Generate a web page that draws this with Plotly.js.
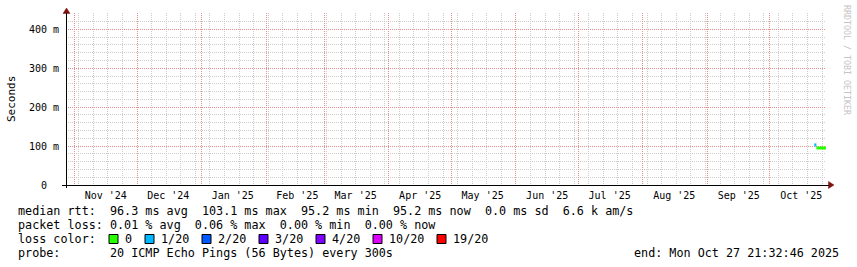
<!DOCTYPE html>
<html><head><meta charset="utf-8">
<script src="https://cdn.plot.ly/plotly-3.0.1.min.js"></script>
<style>html,body{margin:0;padding:0;background:#fff;} #chart{width:857px;height:267px;}</style>
</head><body><div id="chart"></div>
<script>
// ---- data ----
const rangeStart = '2024-10-27 21:32:46';
const rangeEnd = '2025-10-27 21:32:46';
const weekGridStart = '2024-11-03';
const monthStarts = ['2024-11-01','2024-12-01','2025-01-01','2025-02-01','2025-03-01','2025-04-01',
  '2025-05-01','2025-06-01','2025-07-01','2025-08-01','2025-09-01','2025-10-01'];
const monthLabelDates = ['2024-11-16','2024-12-16','2025-01-16','2025-02-16','2025-03-16','2025-04-16',
  '2025-05-16','2025-06-16','2025-07-16','2025-08-16','2025-09-16','2025-10-16'];
const monthLabels = ["Nov '24","Dec '24","Jan '25","Feb '25","Mar '25","Apr '25",
  "May '25","Jun '25","Jul '25","Aug '25","Sep '25","Oct '25"];
const yTickVals = [0, 0.1, 0.2, 0.3, 0.4];
const yTickText = ['0  ', '100 m', '200 m', '300 m', '400 m'];
// sample boundaries (last entry = end of graph)
const sampleTimes = ['2025-10-22 07:00','2025-10-23 07:00','2025-10-24 07:00','2025-10-25 07:00',
  '2025-10-26 07:00','2025-10-27 07:00','2025-10-27 21:32'];
const medianRtt = [0.1031, 0.0953, 0.0952, 0.0952, 0.0952, 0.0952];
const lossCount = [1, 0, 0, 0, 0, 0];
const lossLevels = [0, 1, 2, 3, 4, 10, 19];
const lossLabels = ['0', '1/20', '2/20', '3/20', '4/20', '10/20', '19/20'];
const lossColors = ['#26ff00', '#00b8ff', '#0059ff', '#5e00ff', '#7e00ff', '#dd00ff', '#ff0000'];
const statLines = [
  'median rtt:  96.3 ms avg  103.1 ms max  95.2 ms min  95.2 ms now  0.0 ms sd  6.6 k am/s',
  'packet loss: 0.01 % avg  0.06 % max  0.00 % min  0.00 % now'
];
const probeLine = 'probe:       20 ICMP Echo Pings (56 Bytes) every 300s';
const endLine = 'end: Mon Oct 27 21:32:46 2025';
const watermark = 'RRDTOOL / TOBI OETIKER';

// ---- geometry helpers ----
const L = 66, R = 826, T = 13, B = 185;
const px = x => (x - L) / (R - L);
const py = y => (B - y) / (B - T);
const nb = s => s.replace(/ /g, '\u00a0');
const MONO = 'DejaVu Sans Mono, monospace';
function colorFor(loss) {
  let c = lossColors[0];
  lossLevels.forEach((lv, i) => { if (loss >= lv) c = lossColors[i]; });
  return c;
}

// ---- traces: median line coloured by loss ----
const traces = [];
let run = null;
for (let i = 0; i < medianRtt.length; i++) {
  const col = colorFor(lossCount[i]);
  if (!run || run.line.color !== col) {
    if (run) { run.x.push(sampleTimes[i]); run.y.push(medianRtt[i - 1]); }
    run = {type: 'scatter', mode: 'lines', x: [], y: [], line: {color: col, width: 3, shape: 'hv'},
      showlegend: false, hoverinfo: 'skip', xaxis: 'x', yaxis: 'y'};
    traces.push(run);
  }
  run.x.push(sampleTimes[i]); run.y.push(medianRtt[i]);
}
run.x.push(sampleTimes[sampleTimes.length - 1]); run.y.push(medianRtt[medianRtt.length - 1]);
['x2', 'x3'].forEach(ax => traces.push({type: 'scatter', mode: 'lines', x: [null], y: [null], xaxis: ax, yaxis: 'y',
  showlegend: false, hoverinfo: 'skip'}));

// ---- annotations ----
const ann = [];
const textFont = {family: MONO, size: 11.75, color: '#000'};
const lineY = [211, 225, 239, 253];
statLines.forEach((s, i) => ann.push({xref: 'paper', yref: 'paper', x: px(16), y: py(lineY[i]),
  xanchor: 'left', yanchor: 'middle', text: nb(s), showarrow: false, font: textFont}));
ann.push({xref: 'paper', yref: 'paper', x: px(16), y: py(lineY[2]), xanchor: 'left', yanchor: 'middle',
  text: nb('loss color:'), showarrow: false, font: textFont});
ann.push({xref: 'paper', yref: 'paper', x: px(16), y: py(lineY[3]), xanchor: 'left', yanchor: 'middle',
  text: nb(probeLine), showarrow: false, font: textFont});
ann.push({xref: 'paper', yref: 'paper', x: px(841), y: py(lineY[3]), xanchor: 'right', yanchor: 'middle',
  text: nb(endLine), showarrow: false, font: textFont});
ann.push({xref: 'paper', yref: 'paper', x: px(11), y: py(99), xanchor: 'center', yanchor: 'middle',
  text: 'Seconds', textangle: -90, showarrow: false, font: {family: MONO, size: 11, color: '#000'}});
ann.push({xref: 'paper', yref: 'paper', x: px(847), y: py(60), xanchor: 'center', yanchor: 'middle',
  text: nb(watermark), textangle: 90, showarrow: false, font: {family: MONO, size: 8.3, color: '#c4c4c4'}});

const shapes = [];
let sx = 109;
lossLabels.forEach((lab, i) => {
  shapes.push({type: 'rect', xref: 'paper', yref: 'paper', x0: px(sx), x1: px(sx + 9), y0: py(243.5), y1: py(234.5),
    fillcolor: lossColors[i], line: {color: '#000', width: 1}});
  ann.push({xref: 'paper', yref: 'paper', x: px(sx + 14), y: py(lineY[2]), xanchor: 'left', yanchor: 'middle',
    text: nb(lab), showarrow: false, font: textFont});
  sx = sx + 14 + (lab.length + 2) * 7 + 1;
});
// axis arrows and extensions
const AR = '#7f1010';
shapes.push({type: 'path', xref: 'paper', yref: 'paper', fillcolor: AR, line: {color: AR, width: 0.5},
  path: `M ${px(66.5)} ${py(8)} L ${px(63)} ${py(13.5)} L ${px(70)} ${py(13.5)} Z`});
shapes.push({type: 'path', xref: 'paper', yref: 'paper', fillcolor: AR, line: {color: AR, width: 0.5},
  path: `M ${px(834)} ${py(185)} L ${px(828.5)} ${py(181.5)} L ${px(828.5)} ${py(188.5)} Z`});
shapes.push({type: 'line', xref: 'paper', yref: 'paper', x0: px(62), x1: px(829), y0: py(185.5), y1: py(185.5),
  line: {color: '#000', width: 1}});
shapes.push({type: 'line', xref: 'paper', yref: 'paper', x0: px(66.5), x1: px(66.5), y0: py(188), y1: py(13),
  line: {color: '#000', width: 1}});

const MGRID = '#e49090';
const GRID = '#cdcdcd';
const layout = {
  width: 857, height: 267,
  margin: {l: L, r: 857 - R, t: T, b: 267 - B, pad: 0},
  paper_bgcolor: '#fff', plot_bgcolor: '#fff',
  showlegend: false,
  // weekly grid
  xaxis: {type: 'date', range: [rangeStart, rangeEnd], tickmode: 'linear', tick0: weekGridStart, dtick: 7 * 86400000,
    showticklabels: false, ticks: '', showgrid: true, gridcolor: GRID, griddash: '1px,1px', gridwidth: 1,
    showline: false, zeroline: false, fixedrange: true},
  // month grid
  xaxis2: {type: 'date', overlaying: 'x', anchor: 'y', side: 'bottom', range: [rangeStart, rangeEnd],
    tickmode: 'array', tickvals: monthStarts, showticklabels: false, ticks: '',
    showgrid: true, gridcolor: MGRID, griddash: '1px,1px', gridwidth: 1, zeroline: false, showline: false},
  // month labels
  xaxis3: {type: 'date', overlaying: 'x', anchor: 'y', side: 'bottom', range: [rangeStart, rangeEnd],
    tickmode: 'array', tickvals: monthLabelDates, ticktext: monthLabels, showgrid: false, zeroline: false,
    ticks: '', ticklabelstandoff: 3, tickfont: {family: MONO, size: 10, color: '#000'}, showline: false},
  yaxis: {range: [0, 0.442], tickmode: 'array', tickvals: yTickVals, ticktext: yTickText.map(nb),
    tickfont: {family: MONO, size: 10, color: '#000'}, ticks: '', ticklabelstandoff: 6,
    showgrid: true, gridcolor: MGRID, griddash: '1px,1px', gridwidth: 1,
    minor: {tickmode: 'linear', dtick: 0.02, tick0: 0, showgrid: true, gridcolor: GRID, griddash: '1px,1px', gridwidth: 1, ticks: ''},
    showline: false, zeroline: false, fixedrange: true},
  annotations: ann,
  shapes: shapes
};
Plotly.newPlot('chart', traces, layout, {staticPlot: true, displayModeBar: false});
</script></body></html>
